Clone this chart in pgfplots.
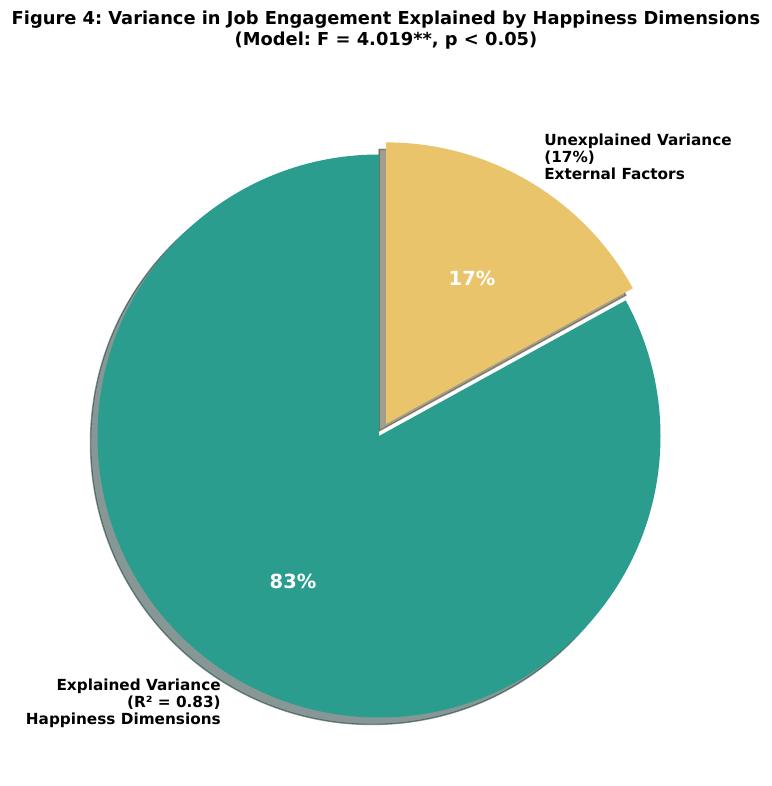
\documentclass[border=0pt]{standalone}
\usepackage{pgfplots}
\pgfplotsset{compat=1.18}
\usepackage{pgfplotstable}
\usepackage{fontspec}
\setmainfont{DejaVu Sans}
\frenchspacing
\definecolor{tealc}{HTML}{2A9D8F}
\definecolor{yellc}{HTML}{E9C46A}
\definecolor{shA}{RGB}{13,47,43}
\definecolor{shB}{RGB}{70,59,32}
\pgfplotstableread{
label value
Explained 83
Unexplained 17
}\piedata
\pgfplotstablegetelem{0}{value}\of\piedata
\let\valA\pgfplotsretval
\pgfplotstablegetelem{1}{value}\of\piedata
\let\valB\pgfplotsretval
\pgfmathsetmacro\angA{90+3.6*\valA}
\pgfmathsetmacro\angB{\angA+3.6*\valB}
\pgfmathsetmacro\midB{\angA+1.8*\valB}
\def\R{202.68pt}
\begin{document}
\begin{tikzpicture}
\useasboundingbox (0,0) rectangle (555.84pt,565.92pt);
\begin{axis}[
  width=555.84pt, height=565.92pt, scale only axis,
  xmin=0, xmax=772, ymin=0, ymax=786,
  hide axis, clip=false,
]
% shadows
\path[fill=shA, draw=shA, fill opacity=0.5, draw opacity=0.5, line width=1pt]
  ([shift={(-5.04pt,-5.04pt)}]axis cs:379,350) -- ++(90:\R) arc[start angle=90, end angle=\angA, radius=\R] -- cycle;
\path[fill=shB, draw=shB, fill opacity=0.5, draw opacity=0.5, line width=1pt]
  ([shift={(-5.04pt,-5.04pt)}]axis cs:379,350) ++(\midB:10.14pt) -- ++(\angA:\R) arc[start angle=\angA, end angle=\angB, radius=\R] -- cycle;
% wedges
\fill[tealc] (axis cs:379,350) -- ++(90:\R) arc[start angle=90, end angle=\angA, radius=\R] -- cycle;
\fill[yellc] (axis cs:379,350) ++(\midB:10.14pt) -- ++(\angA:\R) arc[start angle=\angA, end angle=\angB, radius=\R] -- cycle;
% percentages
\node[text=white, font=\fontsize{14}{16}\selectfont\bfseries, inner sep=0] at (axis cs:293,204.5) {83\%};
\node[text=white, font=\fontsize{14}{16}\selectfont\bfseries, inner sep=0] at (axis cs:472,507.5) {17\%};
% labels
\node[anchor=east, align=right, inner sep=0, font=\fontsize{11}{12.24}\selectfont\bfseries] at (axis cs:221,83)
  {Explained Variance\\(R² = 0.83)\\Happiness Dimensions};
\node[anchor=west, align=left, inner sep=0, font=\fontsize{11}{12.24}\selectfont\bfseries] at (axis cs:544,629)
  {Unexplained Variance\\(17\%)\\External Factors};
% title
\node[anchor=base, inner sep=0, font=\fontsize{12.85}{15}\selectfont\bfseries] at (axis cs:386,761.5)
  {Figure 4: Variance in Job Engagement Explained by Happiness Dimensions};
\node[anchor=base, inner sep=0, font=\fontsize{12.85}{15}\selectfont\bfseries] at (axis cs:386,740.5)
  {(Model: F = 4.019**, p < 0.05)};
\end{axis}
\end{tikzpicture}
\end{document}
